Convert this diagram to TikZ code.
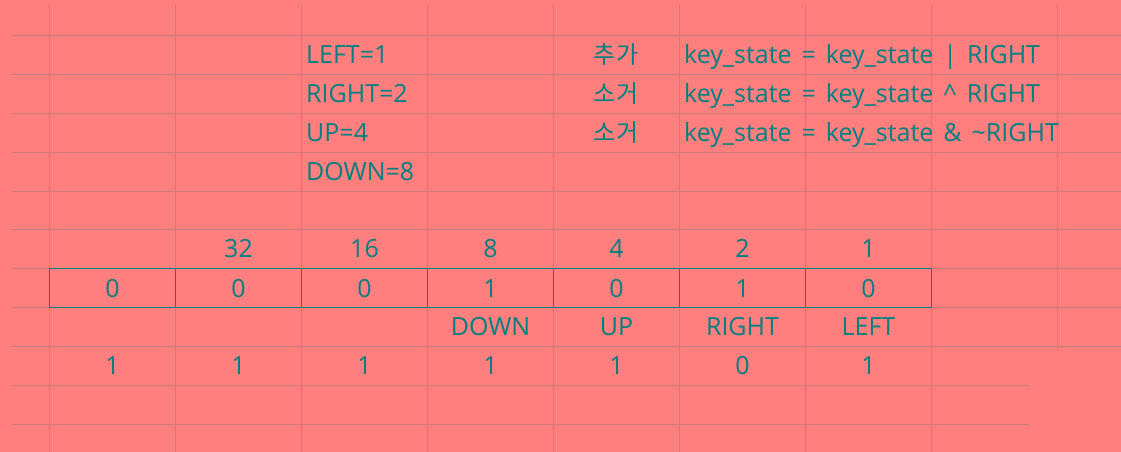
\documentclass[tikz,border=0pt]{standalone}
\usepackage{fontspec}
\setmainfont{Open Sans}
\newfontfamily\krfont{Noto Sans CJK KR}
\definecolor{sheetbg}{RGB}{255,127,127}
\definecolor{cellgrid}{RGB}{200,124,124}
\definecolor{inktext}{RGB}{0,128,128}

\begin{document}
\begin{tikzpicture}[x=1pt,y=-1pt,
    every node/.style={inner sep=0pt,text height=18pt,text depth=0pt,
                       text=inktext,font=\fontsize{25}{30}\selectfont},
    cellbox/.style={draw=inktext,line width=1.2pt,
                    minimum width=126pt,minimum height=39pt},
    krtext/.style={font=\fontsize{24}{30}\krfont},
    wideword/.style={execute at begin node={\spaceskip=10pt\relax}}]
\fill[sheetbg] (0,0) rectangle (1121,452);
\useasboundingbox (0,0) rectangle (1121,452);
% sheet grid
\begin{scope}[draw=cellgrid,line width=1pt]
    \foreach \y in {35,74,113,152,191,229,268,307,346}
        \draw (12,\y+.5) -- (1121,\y+.5);
    \foreach \y in {385,424}
        \draw (12,\y+.5) -- (1029,\y+.5);
    \foreach \x in {49,175,301,427,553,679,805,931}
        \draw (\x+.5,5) -- (\x+.5,452);
    \draw (1057.5,5) -- (1057.5,351);
\end{scope}
% flag values
\begin{scope}[every node/.append style={anchor=west}]
    \node (dLeft)  at (306,54.5)  {LEFT=1};
    \node (dRight) at (306,93.5)  {RIGHT=2};
    \node (dUp)    at (306,132.5) {UP=4};
    \node (dDown)  at (306,171.5) {DOWN=8};
    \node[wideword] (eAdd) at (684,54.5)  {key\_state = key\_state | RIGHT};
    \node[wideword] (eXor) at (684,93.5)  {key\_state = key\_state \^{} RIGHT};
    \node[wideword] (eClr) at (684,132.5) {key\_state = key\_state \& \textasciitilde RIGHT};
\end{scope}
\begin{scope}[every node/.append style={krtext}]
    \node (kAdd) at (616,54.5)  {추가};
    \node (kXor) at (616,93.5)  {소거};
    \node (kClr) at (616,132.5) {소거};
\end{scope}
% bit weights
\foreach \w [count=\i] in {32,16,8,4,2,1}
    \node (w\i) at (112.5+126*\i,248.5) {\w};
% key_state bits
\foreach \b [count=\i from 0] in {0,0,0,1,0,1,0}
    \node[cellbox] (b\i) at (112.5+126*\i,288) {\b};
% flag names
\foreach \n [count=\i from 3] in {DOWN,UP,RIGHT,LEFT}
    \node (f\i) at (112.5+126*\i,326.5) {\n};
% inverted bits
\foreach \b [count=\i from 0] in {1,1,1,1,1,0,1}
    \node (n\i) at (112.5+126*\i,365.5) {\b};
\end{tikzpicture}
\end{document}
